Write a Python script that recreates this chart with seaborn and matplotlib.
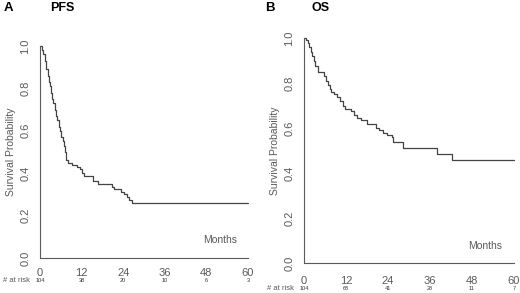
import pandas as pd
import seaborn as sns
import matplotlib
matplotlib.use("Agg")
import matplotlib.pyplot as plt

# PFS curve (months, survival probability)
pfs_t = [0, 0.6, 1.0, 1.4, 1.8, 2.2, 2.5, 2.9, 3.2, 3.5, 3.8, 4.2, 4.6, 5.0, 5.4, 5.8, 6.2, 6.6,
         7.0, 7.3, 7.6, 8.1, 9.2, 10.6, 11.4, 12.1, 12.6, 15.3, 16.6, 20.9, 21.4, 23.4, 24.3,
         25.0, 25.8, 26.5, 60]
pfs_s = [1.0, 0.98, 0.96, 0.93, 0.89, 0.86, 0.83, 0.81, 0.78, 0.75, 0.73, 0.70, 0.67, 0.65, 0.62,
         0.60, 0.57, 0.55, 0.53, 0.50, 0.46, 0.45, 0.44, 0.43, 0.42, 0.40, 0.385, 0.365, 0.35,
         0.335, 0.325, 0.31, 0.30, 0.29, 0.275, 0.26, 0.26]

# OS curve
os_t = [0, 0.5, 1.0, 1.5, 2.0, 2.4, 2.8, 3.2, 4.0, 5.8, 6.3, 6.8, 7.3, 7.8, 8.5, 9.3, 10.2, 11.0,
        11.7, 13.5, 14.3, 15.0, 16.2, 17.9, 20.6, 21.5, 22.6, 23.6, 25.0, 25.5, 28.2, 38.0, 42.2, 60]
os_s = [1.0, 0.99, 0.98, 0.96, 0.94, 0.92, 0.90, 0.875, 0.85, 0.83, 0.81, 0.79, 0.775, 0.76, 0.75,
        0.74, 0.72, 0.70, 0.685, 0.675, 0.66, 0.645, 0.635, 0.62, 0.60, 0.59, 0.58, 0.57, 0.56,
        0.54, 0.51, 0.485, 0.46, 0.46]

risk_times = [0, 12, 24, 36, 48, 60]
pfs_risk = [104, 38, 20, 10, 6, 3]
os_risk = [104, 68, 41, 28, 11, 7]

sns.set_style("white")
plt.rcParams['font.family'] = ['Liberation Sans', 'DejaVu Sans']

W, H = 520, 293
fig = plt.figure(figsize=(W / 100, H / 100), dpi=100)
grey = "#5a5a5a"


def px_axes(x0, x1, ytop, ybot):
    # axes box from pixel positions (x0..x1 = 0..60, ytop..ybot = 1..0)
    return fig.add_axes([x0 / W, (H - ybot) / H, (x1 - x0) / W, (ybot - ytop) / H])


panels = [
    dict(box=(40, 248, 46, 258), t=pfs_t, s=pfs_s, risk=pfs_risk, letter="A", title="PFS",
         lx=4, tx=50, months=(220, 240), risk_y=281, tickpad=3),
    dict(box=(304, 514, 38, 263), t=os_t, s=os_s, risk=os_risk, letter="B", title="OS",
         lx=265, tx=311, months=(485, 246), risk_y=288, tickpad=5),
]

for p in panels:
    ax = px_axes(*p["box"])
    df = pd.DataFrame({"Months": p["t"], "Survival": p["s"]})
    sns.lineplot(data=df, x="Months", y="Survival", ax=ax, estimator=None, sort=False,
                 drawstyle="steps-post", color="#444444", linewidth=0.9, clip_on=False)
    ax.set_xlim(0, 60)
    ax.set_ylim(0, 1)
    ax.set_xticks(risk_times)
    ax.set_yticks([0, 0.2, 0.4, 0.6, 0.8, 1.0])
    ax.set_yticklabels(["0.0", "0.2", "0.4", "0.6", "0.8", "1.0"], rotation=90, va="center")
    ax.tick_params(axis="both", direction="out", length=4, width=0.8, color=grey,
                   labelsize=8, labelcolor=grey)
    ax.tick_params(axis="x", pad=p["tickpad"])
    ax.tick_params(axis="y", pad=3)
    for side in ["top", "right"]:
        ax.spines[side].set_visible(False)
    for side in ["left", "bottom"]:
        ax.spines[side].set_color(grey)
        ax.spines[side].set_linewidth(0.8)
    ax.set_xlabel("")
    ax.set_ylabel("Survival Probability", fontsize=7.5, color=grey, labelpad=3)
    mx, my = p["months"]
    fig.text(mx / W, 1 - my / H, "Months", fontsize=7.5, color=grey, ha="center", va="center")
    x0 = p["box"][0]
    ry = p["risk_y"]
    bot = p["box"][3]
    top = p["box"][2]
    ay = (bot - ry) / (bot - top)
    for t, n in zip(risk_times, p["risk"]):
        ax.text(t, ay, str(n), fontsize=4, color="#333333", ha="center", va="center",
                transform=ax.get_xaxis_transform(), clip_on=False)
    fig.text((x0 - 37) / W, 1 - ry / H, "# at risk", fontsize=5.5, color=grey,
             ha="left", va="center")
    fig.text(p["lx"] / W, 1 - 8 / H, p["letter"], fontsize=9.5, fontweight="bold",
             ha="left", va="center", color="black")
    fig.text(p["tx"] / W, 1 - 8 / H, p["title"], fontsize=9, fontweight="bold",
             ha="left", va="center", color="black")

fig.savefig("out.png", dpi=100)
